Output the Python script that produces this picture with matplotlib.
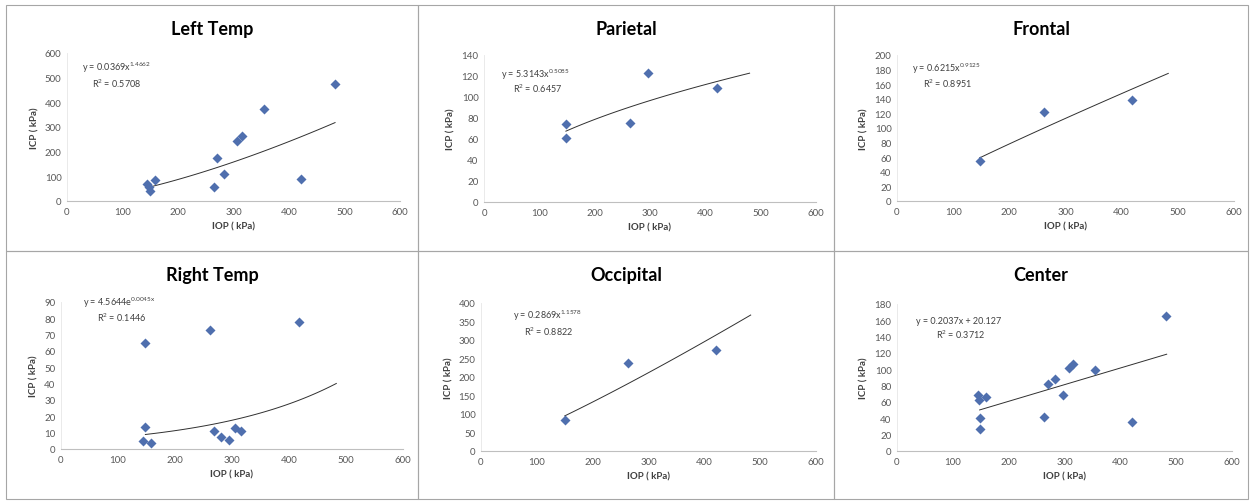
import numpy as np
import matplotlib
matplotlib.use('Agg')
import matplotlib.pyplot as plt
from matplotlib.patches import Rectangle

plt.rcParams['font.family'] = ['Lato', 'DejaVu Sans']
plt.rcParams['mathtext.fontset'] = 'custom'
plt.rcParams['mathtext.rm'] = 'Lato'
plt.rcParams['mathtext.default'] = 'regular'

# ---- data ----
left_x = [145, 148, 150, 158, 265, 270, 283, 307, 315, 355, 421, 483]
left_y = [68, 55, 40, 84, 57, 174, 111, 242, 262, 374, 88, 474]

par_x = [148, 149, 263, 296, 421]
par_y = [74, 61, 75, 123, 109]

fro_x = [147, 261, 418]
fro_y = [55, 122, 139]

rt_x = [148, 262, 418, 148, 144, 158, 269, 281, 294, 305, 315]
rt_y = [65, 72.6, 78, 13.3, 4.7, 3.7, 11.2, 7.6, 5.7, 12.7, 11.2]

occ_x = [150, 264, 421]
occ_y = [84, 237, 274]

cen_x = [145, 147, 159, 148, 149, 264, 270, 283, 297, 308, 316, 355, 421, 482]
cen_y = [69, 63, 66, 40, 27, 42, 82, 88, 68, 102, 107, 99, 36, 165]

# trendline x-range as drawn in each panel
trend_range = [(145, 483), (148, 480), (147, 483), (148, 483), (150, 483), (148, 483)]

titles = ['Left Temp', 'Parietal', 'Frontal', 'Right Temp', 'Occipital', 'Center']
eq_texts = [r'y = 0.0369x$^{1.4662}$', r'y = 5.3143x$^{0.5085}$', r'y = 0.6215x$^{0.9125}$',
            r'y = 4.5644e$^{0.0045x}$', r'y = 0.2869x$^{1.1578}$', 'y = 0.2037x + 20.127']
r2_texts = ['R$^{2}$ = 0.5708', 'R$^{2}$ = 0.6457', 'R$^{2}$ = 0.8951',
            'R$^{2}$ = 0.1446', 'R$^{2}$ = 0.8822', 'R$^{2}$ = 0.3712']
fits = [lambda x: 0.0369 * x ** 1.4662,
        lambda x: 5.3143 * x ** 0.5085,
        lambda x: 0.6215 * x ** 0.9125,
        lambda x: 4.5644 * np.exp(0.0045 * x),
        lambda x: 0.2869 * x ** 1.1578,
        lambda x: 0.2037 * x + 20.127]
ymax = [600, 140, 200, 90, 400, 180]
ystep = [100, 20, 20, 10, 50, 20]
xs = [left_x, par_x, fro_x, rt_x, occ_x, cen_x]
ys = [left_y, par_y, fro_y, rt_y, occ_y, cen_y]

W, H = 1251, 502
# axes boxes in pixels: left, right, top, bottom
boxes = [(67, 400, 54, 202), (484, 816, 56, 203), (897, 1234, 56, 202),
         (61, 403, 303, 450), (481, 816, 304, 452), (897, 1232, 305, 452)]
panels = [(6, 418, 6, 252), (418, 834, 6, 252), (834, 1248, 6, 252),
          (6, 418, 252, 500), (418, 834, 252, 500), (834, 1248, 252, 500)]
eq_pos = [((0.045, 0.905), (0.075, 0.80)), ((0.05, 0.875), (0.087, 0.775)),
          ((0.045, 0.91), (0.077, 0.81)), ((0.064, 1.0), (0.105, 0.90)),
          ((0.095, 0.92), (0.128, 0.815)), ((0.057, 0.89), (0.116, 0.80))]

fig = plt.figure(figsize=(W / 100, H / 100), dpi=100)
fig.patch.set_facecolor('white')

for i in range(6):
    l, r, t, b = boxes[i]
    ax = fig.add_axes([l / W, 1 - b / H, (r - l) / W, (b - t) / H])
    x = np.array(xs[i], dtype=float)
    y = np.array(ys[i], dtype=float)
    ax.plot(x, y, 'D', color='#4f6fae', ms=5, mec='none', zorder=3)
    xx = np.linspace(trend_range[i][0], trend_range[i][1], 100)
    ax.plot(xx, fits[i](xx), color='#303030', lw=0.7, zorder=2)
    ax.set_xlim(0, 600)
    ax.set_ylim(0, ymax[i])
    ax.set_xticks(np.arange(0, 601, 100))
    ax.set_yticks(np.arange(0, ymax[i] + 1, ystep[i]))
    ax.tick_params(length=0, labelsize=7, colors='#595959', pad=4)
    for s in ['top', 'right']:
        ax.spines[s].set_visible(False)
    ax.spines['bottom'].set_color('#bfbfbf')
    ax.spines['left'].set_color('#e6e6e6')
    ax.spines['bottom'].set_linewidth(0.8)
    ax.spines['left'].set_linewidth(0.6)
    ax.set_facecolor('none')
    ax.set_xlabel('IOP ( kPa)', fontsize=7, fontweight='bold', color='#404040', labelpad=4)
    ax.set_ylabel('ICP ( kPa)', fontsize=7, fontweight='bold', color='#404040', labelpad=4)
    (ex, ey), (rx, ry) = eq_pos[i]
    ax.text(ex, ey, eq_texts[i], transform=ax.transAxes, fontsize=6.5, color='#404040',
            ha='left', va='center')
    ax.text(rx, ry, r2_texts[i], transform=ax.transAxes, fontsize=6.5, color='#404040',
            ha='left', va='center')

    pl, pr, pt, pb = panels[i]
    fig.text((pl + pr) / 2 / W, 1 - (pt + 24) / H, titles[i], fontsize=13,
             fontweight='bold', ha='center', va='center', color='black')
    fig.patches.append(Rectangle((pl / W, 1 - pb / H), (pr - pl) / W, (pb - pt) / H,
                                 transform=fig.transFigure, fill=False,
                                 edgecolor='#a6a6a6', lw=0.8))

fig.savefig('out.png', dpi=100)
